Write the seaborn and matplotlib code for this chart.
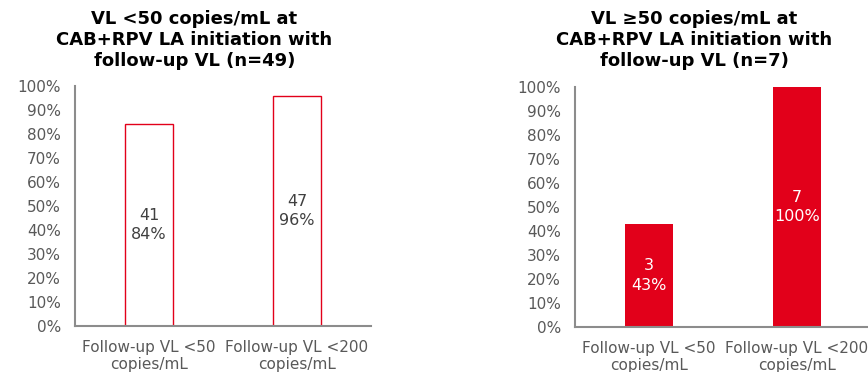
import matplotlib
matplotlib.use("Agg")
import matplotlib.pyplot as plt
import seaborn as sns
import pandas as pd

categories = ["Follow-up VL <50\ncopies/mL", "Follow-up VL <200\ncopies/mL"]
left_counts = [41, 47]
left_pct = [84, 96]
right_counts = [3, 7]
right_pct = [43, 100]
left_title = "VL <50 copies/mL at\nCAB+RPV LA initiation with\nfollow-up VL (n=49)"
right_title = "VL \u226550 copies/mL at\nCAB+RPV LA initiation with\nfollow-up VL (n=7)"
yticks = list(range(0, 101, 10))

sns.set_theme(style="white")
plt.rcParams['font.family'] = ['DejaVu Sans']

RED = "#E2001A"
GRAY = "#595959"
AX = "#8c8c8c"

W, H = 868, 372
fig = plt.figure(figsize=(W / 100, H / 100), dpi=100)

def px_axes(x0, x1, ytop, ybot):
    return fig.add_axes([x0 / W, 1 - ybot / H, (x1 - x0) / W, (ybot - ytop) / H])

ax1 = px_axes(75, 371, 86, 326)
ax2 = px_axes(575, 871, 87, 327)

def draw(ax, counts, pct, filled, title, tx):
    df = pd.DataFrame({"cat": categories, "pct": pct})
    if filled:
        sns.barplot(data=df, x="cat", y="pct", ax=ax, color=RED, saturation=1,
                    width=0.32, edgecolor=RED, linewidth=0)
        lc = "white"
    else:
        sns.barplot(data=df, x="cat", y="pct", ax=ax, color="white", saturation=1,
                    width=0.32, edgecolor=RED, linewidth=1.0)
        lc = "#404040"
    ax.bar_label(ax.containers[0], labels=[f"{c}\n{p}%" for c, p in zip(counts, pct)],
                 label_type="center", color=lc, fontsize=11.5, linespacing=1.35)
    ax.set_xlim(-0.5, 1.5)
    ax.set_ylim(0, 100)
    ax.set_yticks(yticks)
    ax.set_yticklabels([f"{t}%" for t in yticks])
    ax.set_xlabel("")
    ax.set_ylabel("")
    ax.tick_params(axis="both", length=0, labelsize=11, colors=GRAY)
    ax.tick_params(axis="y", pad=10)
    ax.tick_params(axis="x", pad=10)
    for lbl in ax.get_xticklabels():
        lbl.set_linespacing(1.15)
    for s in ["top", "right"]:
        ax.spines[s].set_visible(False)
    for s in ["left", "bottom"]:
        ax.spines[s].set_color(AX)
        ax.spines[s].set_linewidth(1.5)
    ax.patch.set_alpha(0)
    fig.text(tx / W, 1 - 40 / H, title, ha="center", va="center", fontsize=13,
             fontweight="bold", color="black", linespacing=1.25)

draw(ax1, left_counts, left_pct, False, left_title, 194.5)
draw(ax2, right_counts, right_pct, True, right_title, 694.5)

fig.savefig("out.png", dpi=100)
